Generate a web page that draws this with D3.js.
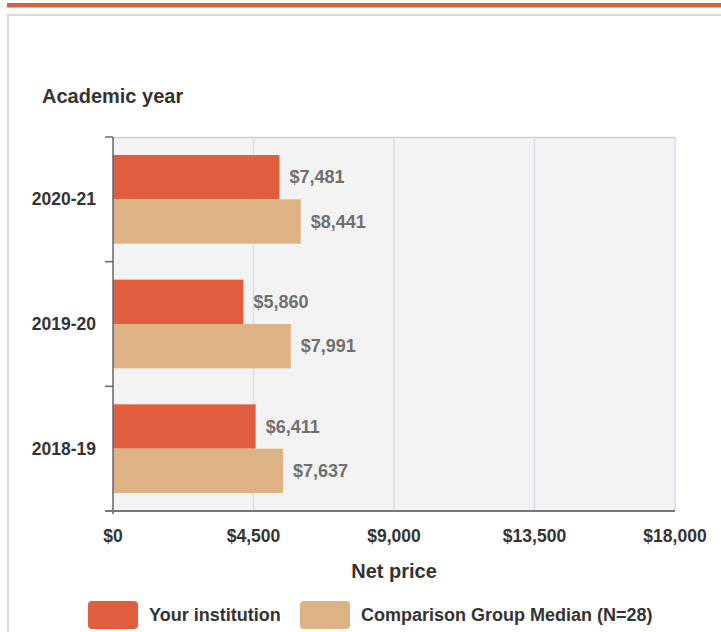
<!DOCTYPE html>
<html>
<head>
<meta charset="utf-8">
<script src="https://cdn.jsdelivr.net/npm/d3@7"></script>
<style>
body { margin: 0; background: #fff; }
text { font-family: "Liberation Sans", Arial, sans-serif; }
</style>
</head>
<body>
<svg id="chart"></svg>
<script>
var years = ['2020-21', '2019-20', '2018-19']
var institution = [7481, 5860, 6411]
var comparison = [8441, 7991, 7637]
var seriesNames = ['Your institution', 'Comparison Group Median (N=28)']
var seriesColors = ['#e05e3e', '#ddb386']
var tickValues = [0, 4500, 9000, 13500, 18000]

var width = 721, height = 632
var plot = {left: 113, right: 675, top: 137, bottom: 511}

var svg = d3.select('#chart').attr('width', width).attr('height', height)

// page decoration
svg.append('rect').attr('x', 7).attr('y', 3).attr('width', width - 7).attr('height', 4.5).style('fill', '#d9603f')
svg.append('path').attr('d', 'M8,' + height + 'V15H' + width)
    .style('fill', 'none').style('stroke', '#dadada').style('stroke-width', 2)

var xAxisScale = d3.scaleLinear().domain([0, 18000]).range([plot.left, plot.right])
// bars in the source are drawn against a wider domain than the axis labels
var xBar = d3.scaleLinear().domain([0, 25260]).range([plot.left, plot.right])
var y = d3.scaleBand().domain(years).range([plot.top, plot.bottom])
var inner = d3.scaleBand().domain([0, 1]).range([18, y.bandwidth() - 18])

svg.append('rect')
    .attr('x', plot.left).attr('y', plot.top)
    .attr('width', plot.right - plot.left).attr('height', plot.bottom - plot.top)
    .style('fill', '#f3f3f3')
svg.append('line').attr('x1', plot.left).attr('x2', plot.right).attr('y1', plot.top + 0.5).attr('y2', plot.top + 0.5)
    .style('stroke', '#cfcfcf').style('stroke-width', 1.5)
svg.append('line').attr('x1', plot.right).attr('x2', plot.right).attr('y1', plot.top).attr('y2', plot.bottom)
    .style('stroke', '#d3dbe6').style('stroke-width', 1.5)

// grid
svg.selectAll('.grid')
    .data(tickValues.slice(1, -1))
    .enter()
    .append('line')
    .attr('x1', function (d) { return xAxisScale(d) })
    .attr('x2', function (d) { return xAxisScale(d) })
    .attr('y1', plot.top)
    .attr('y2', plot.bottom)
    .style('stroke', '#d6deea')
    .style('stroke-width', 1.5)

// bars
var series = [institution, comparison]
var groups = svg.selectAll('.year')
    .data(years)
    .enter()
    .append('g')
    .attr('transform', function (d) { return 'translate(0,' + y(d) + ')' })

groups.each(function (yr, i) {
    var g = d3.select(this)
    series.forEach(function (vals, s) {
        g.append('rect')
            .attr('x', xBar(0))
            .attr('y', inner(s))
            .attr('width', xBar(vals[i]) - xBar(0))
            .attr('height', inner.bandwidth())
            .style('fill', seriesColors[s])
        g.append('text')
            .attr('x', xBar(vals[i]) + 10)
            .attr('y', inner(s) + inner.bandwidth() / 2)
            .attr('dy', '0.35em')
            .style('font-size', '18px')
            .style('font-weight', 'bold')
            .style('fill', '#707070')
            .text('$' + d3.format(',')(vals[i]))
    })
})

// y axis
var yTicks = years.map(function (d) { return y(d) }).concat([plot.bottom])
svg.selectAll('.ytick')
    .data(yTicks)
    .enter()
    .append('line')
    .attr('x1', plot.left - 8).attr('x2', plot.left)
    .attr('y1', function (d) { return d }).attr('y2', function (d) { return d })
    .style('stroke', '#666').style('stroke-width', 1.5)
svg.append('line').attr('x1', plot.left).attr('x2', plot.left).attr('y1', plot.top).attr('y2', plot.bottom + 3)
    .style('stroke', '#666').style('stroke-width', 1.5)
svg.selectAll('.ylabel')
    .data(years)
    .enter()
    .append('text')
    .attr('x', 96)
    .attr('y', function (d) { return y(d) + y.bandwidth() / 2 })
    .attr('dy', '0.35em')
    .attr('text-anchor', 'end')
    .style('font-size', '17.5px')
    .style('font-weight', 'bold')
    .style('fill', '#333')
    .text(function (d) { return d })

// x axis
svg.append('line').attr('x1', plot.left - 8).attr('x2', plot.right).attr('y1', plot.bottom).attr('y2', plot.bottom)
    .style('stroke', '#777').style('stroke-width', 2)
svg.selectAll('.xlabel')
    .data(tickValues)
    .enter()
    .append('text')
    .attr('x', function (d) { return xAxisScale(d) })
    .attr('y', 542)
    .attr('text-anchor', 'middle')
    .style('font-size', '17.5px')
    .style('font-weight', 'bold')
    .style('fill', '#333')
    .text(function (d) { return '$' + d3.format(',')(d) })

svg.append('text').attr('x', 394).attr('y', 578).attr('text-anchor', 'middle')
    .style('font-size', '20px').style('font-weight', 'bold').style('fill', '#333').text('Net price')
svg.append('text').attr('x', 42).attr('y', 103)
    .style('font-size', '20px').style('font-weight', 'bold').style('fill', '#333').text('Academic year')

// legend
var legendX = [88, 300]
seriesNames.forEach(function (name, i) {
    svg.append('rect')
        .attr('x', legendX[i]).attr('y', 601)
        .attr('width', 50).attr('height', 28)
        .attr('rx', 4)
        .style('fill', seriesColors[i])
    svg.append('text')
        .attr('x', legendX[i] + 61).attr('y', 615)
        .attr('dy', '0.35em')
        .style('font-size', '18px')
        .style('font-weight', 'bold')
        .style('fill', '#333')
        .text(name)
})
</script>
</body>
</html>
